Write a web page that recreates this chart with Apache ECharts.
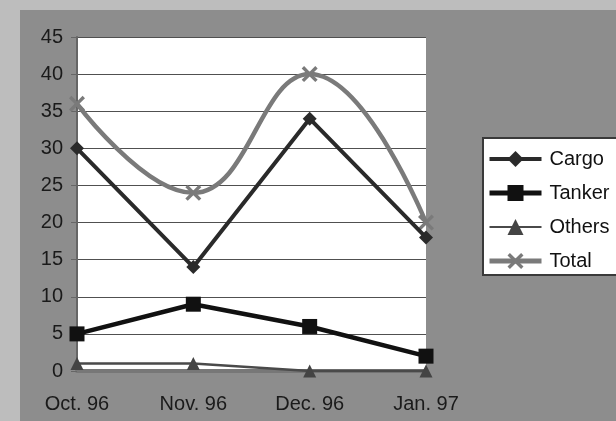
<!DOCTYPE html>
<html><head><meta charset="utf-8">
<script src="https://cdn.jsdelivr.net/npm/echarts@6/dist/echarts.min.js"></script>
<style>html,body{margin:0;padding:0;background:#bdbdbd}#c{width:616px;height:421px}</style>
</head><body><div id="c"></div>
<script>
const categories = ['Oct. 96', 'Nov. 96', 'Dec. 96', 'Jan. 97'];
const cargo = [30, 14, 34, 18];
const tanker = [5, 9, 6, 2];
const others = [1, 1, 0, 0];
const total = [36, 24, 40, 20];
const yTicks = [0, 5, 10, 15, 20, 25, 30, 35, 40, 45];

const chart = echarts.init(document.getElementById('c'));
const xSym = 'path://M0,1.5L1.5,0L5,3.5L8.5,0L10,1.5L6.5,5L10,8.5L8.5,10L5,6.5L1.5,10L0,8.5L3.5,5Z';
const font = '"Liberation Sans", Arial, sans-serif';
chart.setOption({
  animation: false,
  backgroundColor: '#bdbdbd',
  graphic: [
    {type: 'rect', z: -10, left: 20, top: 10, shape: {width: 600, height: 420}, style: {fill: '#8d8d8d'}},
    {type: 'rect', z: -9, left: 77, top: 37, shape: {width: 349, height: 334}, style: {fill: '#ffffff'}}
  ],
  grid: {left: 77, top: 37, width: 349, height: 334, containLabel: false},
  legend: {
    orient: 'vertical', left: 483, top: 138,
    backgroundColor: '#ffffff', borderColor: '#3a3a3a', borderWidth: 2,
    padding: [11, 40, 4, 4], itemGap: 14, itemWidth: 52, itemHeight: 20,
    textStyle: {fontFamily: font, fontSize: 20, lineHeight: 20, color: '#111', padding: [0,0,0,3]},
    data: [
      {name: 'Cargo', lineStyle: {width: 4}},
      {name: 'Tanker', lineStyle: {width: 5}},
      {name: 'Others', lineStyle: {width: 2}},
      {name: 'Total', lineStyle: {width: 5}}
    ]
  },
  xAxis: {
    type: 'category', data: categories, boundaryGap: false,
    axisLine: {show: true, lineStyle: {color: '#777', width: 4}},
    axisTick: {show: false},
    axisLabel: {fontFamily: font, fontSize: 20, color: '#1a1a1a', margin: 23},
    splitLine: {show: false}
  },
  yAxis: {
    type: 'value', min: 0, max: 45, interval: 5,
    axisLine: {show: true, lineStyle: {color: '#666', width: 2}},
    axisTick: {show: true, length: 6, lineStyle: {color: '#666'}},
    axisLabel: {fontFamily: font, fontSize: 20, color: '#1a1a1a', margin: 14,
      formatter: v => yTicks.includes(v) ? String(v) : ''},
    splitLine: {show: true, lineStyle: {color: '#505050', width: 1.2}}
  },
  series: [
    {name: 'Cargo', type: 'line', data: cargo, symbol: 'diamond', symbolSize: 14,
      lineStyle: {color: '#2a2a2a', width: 4}, itemStyle: {color: '#2a2a2a'}, z: 4},
    {name: 'Tanker', type: 'line', data: tanker, symbol: 'rect', symbolSize: 15,
      lineStyle: {color: '#111', width: 4.5}, itemStyle: {color: '#111'}, z: 5},
    {name: 'Others', type: 'line', data: others, symbol: 'triangle', symbolSize: 13,
      lineStyle: {color: '#4a4a4a', width: 2.5}, itemStyle: {color: '#444'}, z: 3},
    {name: 'Total', type: 'line', data: total, smooth: 0.45, symbol: xSym, symbolSize: 16,
      lineStyle: {color: '#7a7a7a', width: 4.5}, itemStyle: {color: '#7a7a7a'}, z: 2}
  ]
});
</script></body></html>
